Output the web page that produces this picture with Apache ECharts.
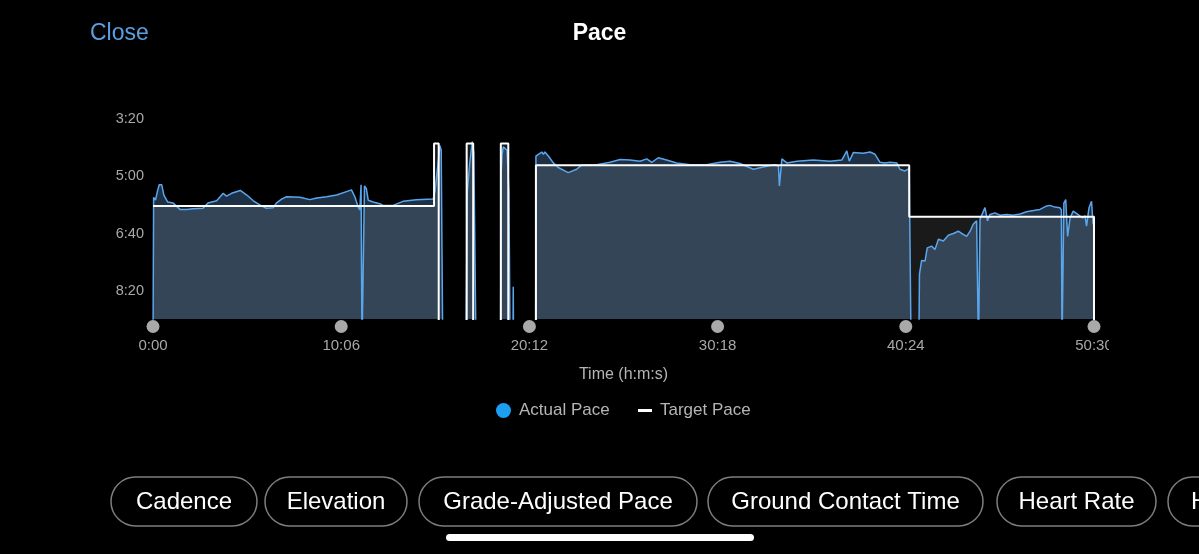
<!DOCTYPE html>
<html>
<head>
<meta charset="utf-8">
<script src="https://cdn.jsdelivr.net/npm/echarts@6/dist/echarts.min.js"></script>
<style>
html,body{margin:0;padding:0;background:#000;}
#chart{width:1199px;height:554px;}
</style>
</head>
<body>
<div id="chart"></div>
<script>
// ---- data (time in seconds, pace in seconds per km; 600 = stopped / off-scale) ----
const xTickValues = [0, 606, 1212, 1818, 2424, 3030];
const xTickLabels = ['0:00', '10:06', '20:12', '30:18', '40:24', '50:30'];
const yTickValues = [200, 300, 400, 500];
const yTickLabels = ['3:20', '5:00', '6:40', '8:20'];

const actualPace = [
  [0,600],[1,600],[2,340],[8,345],[14,330],[20,318],[28,318],[35,336],[47,348],[65,350],[87,361],[108,361],[129,360],[161,359],[177,350],[205,346],[226,333],[237,338],[253,333],[281,328],[302,336],[323,346],[344,353],[365,359],[387,358],[397,350],[414,343],[430,339],[473,340],[505,344],[527,341],[559,339],[591,336],[623,330],[639,327],[650,339],[660,356],[666,362],[670,318],[673,600],[677,600],[681,320],[687,325],[693,345],[709,348],[730,351],[741,354],[773,354],[805,347],[848,344],[902,343],[908,330],[916,290],[924,250],[928,258],[933,600],
  [1008,600],[1012,330],[1020,280],[1028,243],[1033,262],[1040,600],
  [1119,600],[1121,300],[1124,265],[1128,252],[1133,250],[1140,258],[1146,330],[1150,600],[1159,600],[1160,496],[1161,600],
  [1232,600],[1233,268],[1241,265],[1252,261],[1257,265],[1262,261],[1273,268],[1289,280],[1305,288],[1337,297],[1364,291],[1380,284],[1429,283],[1472,279],[1504,274],[1536,275],[1568,277],[1590,273],[1606,279],[1627,271],[1654,275],[1686,280],[1729,283],[1783,283],[1826,279],[1858,277],[1890,281],[1933,291],[1965,287],[2003,283],[2014,286],[2017,320],[2025,273],[2041,280],[2073,277],[2126,275],[2180,277],[2218,275],[2234,259],[2242,277],[2255,262],[2287,263],[2309,261],[2325,265],[2341,279],[2357,280],[2373,279],[2395,280],[2405,291],[2421,294],[2435,290],[2441,600],
  [2466,600],[2468,474],[2472,474],[2475,450],[2486,451],[2493,428],[2507,425],[2518,431],[2529,413],[2545,416],[2561,406],[2577,403],[2593,399],[2604,403],[2620,408],[2631,399],[2641,387],[2652,381],[2656,384],[2658,600],[2661,600],[2663,378],[2668,376],[2679,358],[2687,381],[2695,370],[2711,367],[2727,371],[2749,370],[2770,371],[2792,369],[2813,365],[2835,363],[2856,361],[2878,355],[2888,354],[2904,357],[2920,358],[2925,362],[2927,600],[2931,600],[2933,350],[2939,344],[2945,408],[2953,376],[2963,364],[2979,370],[2993,376],[3001,372],[3006,390],[3014,358],[3022,347],[3027,387],[3030,380],[3031,600]
];

const targetPace = [
  [0,355],[905,355],[905,246],[920,246],[920,600],
  [1010,600],[1010,246],[1031,246],[1031,600],
  [1120,600],[1120,246],[1144,246],[1144,600],
  [1233,600],[1233,284],[2435,284],[2435,374],[3030,374],[3030,600]
];

const buttonLabels = ['Cadence', 'Elevation', 'Grade-Adjusted Pace', 'Ground Contact Time', 'Heart Rate', 'HRV Status'];

// ---- layout / style ----
const FONT = '"Liberation Sans", Arial, Helvetica, sans-serif';
const buttonLayout = [[111,146],[265,142],[419,278],[708,275],[997,159],[1168,170]];

const graphics = [];
buttonLabels.forEach((lab, i) => {
  const [bx, bw] = buttonLayout[i];
  graphics.push({
    type: 'rect', shape: {x: bx, y: 477, width: bw, height: 49, r: 24.5},
    style: {fill: 'none', stroke: '#7d7d7d', lineWidth: 1.5}, silent: true
  });
  const last = i === buttonLabels.length - 1;
  graphics.push({
    type: 'text',
    style: {text: lab, x: last ? bx + 23 : bx + bw / 2, y: 502, textAlign: last ? 'left' : 'center',
            textVerticalAlign: 'middle', verticalAlign: 'middle', fill: '#ffffff', font: '24px ' + FONT},
    silent: true
  });
});
graphics.push({type: 'rect', shape: {x: 446, y: 534, width: 308, height: 7, r: 3.5}, style: {fill: '#ffffff'}, silent: true});
graphics.push({type: 'rect', shape: {x: 1109, y: 334, width: 90, height: 24}, style: {fill: '#000000'}, z: 100, silent: true});

const chart = echarts.init(document.getElementById('chart'), null, {renderer: 'canvas'});
chart.setOption({
  backgroundColor: '#000000',
  animation: false,
  title: [
    {text: 'Pace', left: 'center', top: 22, padding: 0, textStyle: {color: '#ffffff', fontSize: 23, fontWeight: 'bold', fontFamily: FONT}},
    {text: 'Close', left: 90, top: 22, padding: 0, textStyle: {color: '#5a9fe3', fontSize: 23, fontWeight: 'normal', fontFamily: FONT}}
  ],
  legend: [
    {data: [{name: 'Actual Pace', itemStyle: {color: '#1c9ff0'}}], icon: 'circle', itemWidth: 15, itemHeight: 15,
     left: 496, top: 402, padding: 0, selectedMode: false,
     textStyle: {color: '#b5b5b5', fontSize: 17, fontFamily: FONT, padding: [0, 0, 0, 3]}},
    {data: [{name: 'Target Pace', itemStyle: {color: '#ffffff'}}], icon: 'rect', itemWidth: 14, itemHeight: 3,
     left: 638, top: 402, padding: 0, selectedMode: false,
     textStyle: {color: '#b5b5b5', fontSize: 17, fontFamily: FONT, padding: [0, 0, 0, 3]}}
  ],
  grid: {left: 153, right: 105, top: 117, bottom: 235, containLabel: false},
  xAxis: {
    type: 'value', min: 0, max: 3030, interval: 606,
    name: 'Time (h:m:s)', nameLocation: 'middle', nameGap: 48,
    nameTextStyle: {color: '#b5b5b5', fontSize: 16, fontFamily: FONT},
    axisLine: {show: false}, axisTick: {show: false}, splitLine: {show: false},
    axisLabel: {
      margin: 1,
      formatter: v => {
        const i = xTickValues.indexOf(v);
        return i < 0 ? '' : '{dot| }\n{t|' + xTickLabels[i] + '}';
      },
      rich: {
        dot: {width: 13, height: 13, lineHeight: 13, borderRadius: 6.5, backgroundColor: '#a9a9a9'},
        t: {fontSize: 15, lineHeight: 25, color: '#a8a8a8', fontFamily: FONT}
      }
    }
  },
  yAxis: {
    type: 'value', inverse: true, min: 200, max: 552, interval: 100,
    axisLine: {show: false}, axisTick: {show: false}, splitLine: {show: false},
    axisLabel: {
      margin: 9, color: '#a8a8a8', fontSize: 14.5, fontFamily: FONT,
      verticalAlign: 'top', lineHeight: 4,
      formatter: v => {
        const i = yTickValues.indexOf(v);
        return i < 0 ? '' : yTickLabels[i];
      }
    }
  },
  series: [
    {name: 'Actual Fill', type: 'line', data: actualPace, showSymbol: false, silent: true,
     lineStyle: {width: 0, opacity: 0}, areaStyle: {color: 'rgb(30,48,70)', opacity: 1, origin: 'end'}, z: 1},
    {name: 'Target Fill', type: 'line', data: targetPace, showSymbol: false, silent: true,
     lineStyle: {width: 0, opacity: 0}, areaStyle: {color: 'rgba(255,255,255,0.1)', opacity: 1, origin: 'end'}, z: 2},
    {name: 'Actual Pace', type: 'line', data: actualPace, showSymbol: false, silent: true,
     lineStyle: {color: '#5aa6ec', width: 1.5}, itemStyle: {color: '#1c9ff0'}, z: 3},
    {name: 'Target Pace', type: 'line', data: targetPace, showSymbol: false, silent: true,
     lineStyle: {color: '#ffffff', width: 2}, itemStyle: {color: '#ffffff'}, z: 4}
  ],
  graphic: graphics
});
</script>
</body>
</html>
